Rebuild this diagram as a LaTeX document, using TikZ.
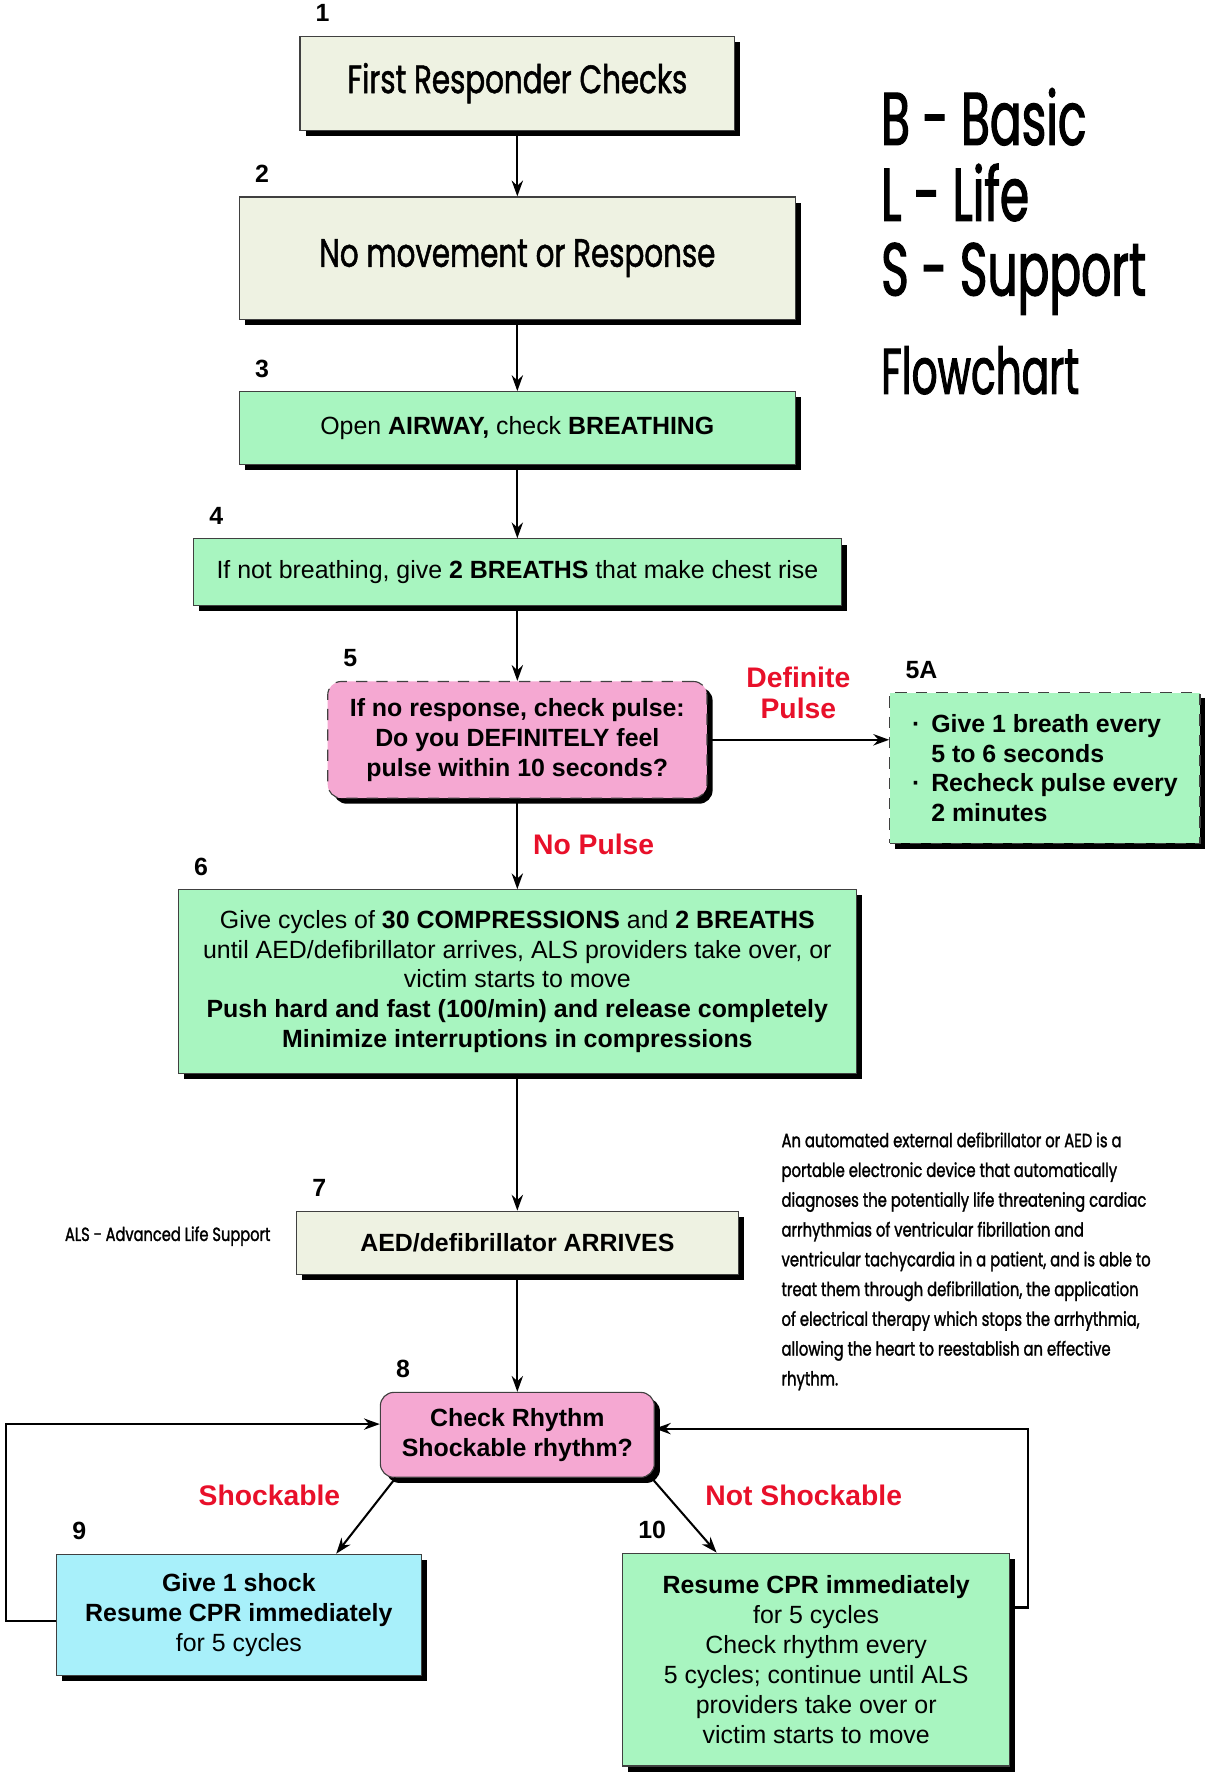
\documentclass[tikz,border=0pt]{standalone}
\usepackage{fontspec}
\setmainfont{Liberation Sans}
\newfontfamily\condfont[FakeStretch=0.74,FakeBold=1.2]{Poppins}
\newfontfamily\titlefont[FakeStretch=0.63,FakeBold=1.5]{Poppins}
\newfontfamily\notefont[FakeStretch=0.77,FakeBold=1.5]{Poppins}
\usetikzlibrary{arrows.meta,shadows}

\definecolor{beige}{HTML}{EEF2E2}
\definecolor{mint}{HTML}{A8F5C0}
\definecolor{rose}{HTML}{F5A8D2}
\definecolor{aqua}{HTML}{A8F0FA}
\definecolor{alarm}{HTML}{E8102A}

\tikzset{
  box/.style={draw=black!75, line width=0.5pt, inner sep=0pt, align=center,
    drop shadow={shadow xshift=2.5pt, shadow yshift=-2.5pt, fill=black, opacity=1},
    font=\fontsize{11}{13.2}\selectfont},
  dashbox/.style={box, dashed, dash pattern=on 5pt off 4pt},
  num/.style={font=\bfseries\fontsize{11}{13}\selectfont, inner sep=0pt},
  lbl/.style={text=alarm, font=\bfseries\fontsize{12.5}{13.5}\selectfont, inner sep=0pt, align=center},
  arr/.style={-{Stealth[length=7pt,width=5pt]}, line width=0.9pt},
  bigtitle/.style={font=\titlefont\fontsize{33}{36}\selectfont, inner sep=0pt, anchor=base west}
}

\begin{document}
\begin{tikzpicture}[x=0.5pt,y=-0.5pt]
\useasboundingbox (0,0) rectangle (1064,1568);

\node[box,fill=beige,minimum width=192pt,minimum height=41.5pt,font=\condfont\fontsize{17.5}{20}\selectfont] (b1) at (457,73.5) {First Responder Checks};
\node[box,fill=beige,minimum width=245.5pt,minimum height=54pt,font=\condfont\fontsize{17.5}{20}\selectfont] (b2) at (457,228) {No movement or Response};
\node[box,fill=mint,minimum width=245.5pt,minimum height=32pt] (b3) at (457,378) {Open \textbf{AIRWAY,} check \textbf{BREATHING}};
\node[box,fill=mint,minimum width=286pt,minimum height=29.5pt] (b4) at (457,505.5) {If not breathing, give \textbf{2 BREATHS} that make chest rise};
\node[dashbox,fill=rose,rounded corners=6pt,minimum width=167.5pt,minimum height=51.5pt,font=\bfseries\fontsize{11}{13.2}\selectfont] (b5) at (457,653.5) {If no response, check pulse:\\Do you DEFINITELY feel\\pulse within 10 seconds?};
\node[dashbox,fill=mint,minimum width=137pt,minimum height=66.5pt,align=left,font=\bfseries\fontsize{11}{13.2}\selectfont] (b5a) at (923,678.5) {\makebox[8.5pt][l]{·}Give 1 breath every\\\hspace*{8.5pt}5 to 6 seconds\\\makebox[8.5pt][l]{·}Recheck pulse every\\\hspace*{8.5pt}2 minutes};
\node[box,fill=mint,minimum width=299.5pt,minimum height=81pt] (b6) at (457,867) {Give cycles of \textbf{30 COMPRESSIONS} and \textbf{2 BREATHS}\\until AED/defibrillator arrives, ALS providers take over, or\\victim starts to move\\\textbf{Push hard and fast (100/min) and release completely}\\\textbf{Minimize interruptions in compressions}};
\node[box,fill=beige,minimum width=195pt,minimum height=28pt,font=\bfseries\fontsize{11}{13.2}\selectfont] (b7) at (457,1098) {AED/defibrillator ARRIVES};
\node[box,fill=rose,rounded corners=6pt,minimum width=121pt,minimum height=37.5pt,font=\bfseries\fontsize{11}{13.2}\selectfont] (b8) at (457,1267.5) {Check Rhythm\\Shockable rhythm?};
\node[box,fill=aqua,minimum width=161pt,minimum height=53.5pt] (b9) at (211,1426.5) {\textbf{Give 1 shock}\\\textbf{Resume CPR immediately}\\for 5 cycles};
\node[box,fill=mint,minimum width=171pt,minimum height=94pt] (b10) at (721,1466) {\textbf{Resume CPR immediately}\\for 5 cycles\\Check rhythm every\\5 cycles; continue until ALS\\providers take over or\\victim starts to move};

\foreach \bx/\nm in {b1/1,b2/2,b3/3,b4/4,b5/5,b5a/5A,b6/6,b7/7,b8/8,b9/9,b10/10}
  \node[num,anchor=west] (n\nm) at ([xshift=7pt,yshift=10pt]\bx.north west) {\nm};

\draw[arr] (b1) -- (b2);
\draw[arr] (b2) -- (b3);
\draw[arr] (b3) -- (b4);
\draw[arr] (b4) -- (b5);
\draw[arr] (b5.east) -- (b5.east -| b5a.west) node[midway,above=9pt,lbl] (lpulse) {Definite\\Pulse};
\draw[arr] (b5) -- (b6) node[midway,anchor=west,xshift=6.5pt,lbl] (lnopulse) {No Pulse};
\draw[arr] (b6) -- (b7);
\draw[arr] (b7) -- (b8);
\draw[arr] ([xshift=7pt]b8.south west) -- ([xshift=43pt]b9.north);
\draw[arr] ([xshift=-1.5pt]b8.south east) -- ([xshift=-44pt]b10.north);
\draw[arr] ([yshift=-2.75pt]b9.west) -- ++(-44,0) |- ([yshift=4.75pt]b8.west);
\draw[arr] ([yshift=23pt]b10.east) -- ++(16,0) |- ([yshift=2.75pt]b8.east);

\node[lbl] (lshock) at (238,1321) {Shockable};
\node[lbl] (lnoshock) at (710,1321) {Not Shockable};

\node[bigtitle] (tb) at (778,128) {B - Basic};
\node[bigtitle] (tl) at (778,195) {L - Life};
\node[bigtitle] (ts) at (778,261) {S - Support};
\node[bigtitle,font=\titlefont\fontsize{28.5}{32}\selectfont] (tf) at (778,348) {Flowchart};

\node[anchor=west,inner sep=0pt,font=\notefont\fontsize{8.4}{10}\selectfont] (als) at (57,1092) {ALS - Advanced Life Support};
\node[anchor=north west,inner sep=0pt,align=left,font=\notefont\fontsize{8.5}{13.15}\selectfont] (aed) at (690,1000) {An automated external defibrillator or AED is a\\portable electronic device that automatically\\diagnoses the potentially life threatening cardiac\\arrhythmias of ventricular fibrillation and\\ventricular tachycardia in a patient, and is able to\\treat them through defibrillation, the application\\of electrical therapy which stops the arrhythmia,\\allowing the heart to reestablish an effective\\rhythm.};

\end{tikzpicture}
\end{document}
